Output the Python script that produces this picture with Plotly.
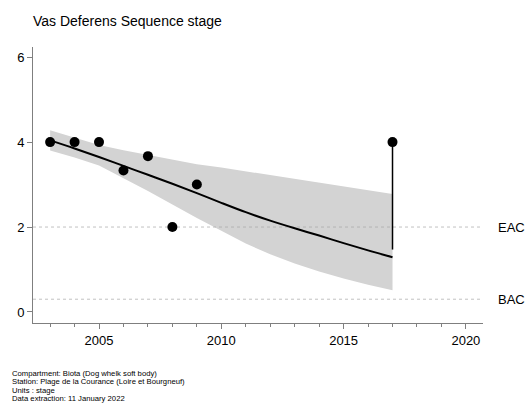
import plotly.graph_objects as go

# Observed data
years = [2003, 2004, 2005, 2006, 2007, 2008, 2009, 2017]
vds = [4.0, 4.0, 4.0, 3.33, 3.67, 2.0, 3.0, 4.0]

# Fitted trend and confidence band
fit_years = [2003, 2004, 2005, 2006, 2007, 2008, 2009, 2010, 2011, 2012, 2013, 2014, 2015, 2016, 2017]
fit_mid = [4.04, 3.85, 3.65, 3.44, 3.23, 3.02, 2.80, 2.57, 2.35, 2.15, 1.97, 1.80, 1.62, 1.45, 1.29]
fit_upper = [4.28, 4.10, 3.93, 3.81, 3.70, 3.58, 3.48, 3.40, 3.31, 3.22, 3.13, 3.04, 2.95, 2.87, 2.78]
fit_lower = [3.80, 3.64, 3.45, 3.15, 2.85, 2.53, 2.21, 1.90, 1.61, 1.36, 1.14, 0.95, 0.79, 0.64, 0.51]

# Last year change segment
last_year = [2017, 2017]
last_seg = [4.0, 1.47]

# Assessment criteria
EAC = 2.0
BAC = 0.3

x_range = [2002.3, 2020.7]
y_range = [-0.26, 6.24]

footer = [
    "Compartment: Biota (Dog whelk soft body)",
    "Station: Plage de la Courance (Loire et Bourgneuf)",
    "Units : stage",
    "Data extraction: 11 January 2022",
]

fig = go.Figure()

fig.add_trace(go.Scatter(
    x=fit_years + fit_years[::-1],
    y=fit_upper + fit_lower[::-1],
    fill="toself", fillcolor="#d3d3d3", line=dict(width=0),
    mode="lines", hoverinfo="skip", showlegend=False,
))

for val in [EAC, BAC]:
    fig.add_trace(go.Scatter(
        x=x_range, y=[val, val], mode="lines",
        line=dict(color="#a8a8a8", width=0.7, dash="dot"),
        showlegend=False, hoverinfo="skip",
    ))

fig.add_trace(go.Scatter(
    x=fit_years, y=fit_mid, mode="lines",
    line=dict(color="black", width=2, shape="spline"), showlegend=False,
))

fig.add_trace(go.Scatter(
    x=last_year, y=last_seg, mode="lines",
    line=dict(color="black", width=1.5), showlegend=False,
))

fig.add_trace(go.Scatter(
    x=years, y=vds, mode="markers",
    marker=dict(color="black", size=10), showlegend=False,
))

PH = 410 - 47 - 87

def py(pix):
    return (323 - pix) / PH

annotations = [
    dict(text="Vas Deferens Sequence stage", xref="paper", yref="paper",
         x=-0.004, y=py(21.5), xanchor="left", yanchor="middle", showarrow=False,
         font=dict(size=14, color="black")),
    dict(text="EAC", xref="paper", yref="y", x=1.028, y=EAC,
         xanchor="left", yanchor="middle", showarrow=False,
         font=dict(size=13, color="black")),
    dict(text="BAC", xref="paper", yref="y", x=1.028, y=BAC,
         xanchor="left", yanchor="middle", showarrow=False,
         font=dict(size=13, color="black")),
]
for i, line in enumerate(footer):
    annotations.append(dict(
        text=line, xref="paper", yref="paper",
        x=(10 - 33) / (483 - 33), y=py(373.3 + i * 8.4),
        xanchor="left", yanchor="middle", showarrow=False,
        font=dict(size=7.7, color="black")))

fig.update_layout(
    width=528, height=410,
    margin=dict(l=33, r=45, t=47, b=87),
    paper_bgcolor="white", plot_bgcolor="white",
    font=dict(family="Liberation Sans, Arial, sans-serif", color="black", size=13),
    annotations=annotations,
    xaxis=dict(
        range=x_range, showgrid=False, zeroline=False,
        showline=True, linecolor="#7f7f7f", linewidth=1,
        tickmode="array", tickvals=[2005, 2010, 2015, 2020],
        ticks="outside", ticklen=5, tickcolor="#7f7f7f",
        minor=dict(tickvals=list(range(2003, 2021)), ticks="outside", ticklen=3, tickcolor="#7f7f7f"),
        tickfont=dict(size=13),
    ),
    yaxis=dict(
        range=y_range, showgrid=False, zeroline=False,
        showline=True, linecolor="#7f7f7f", linewidth=1,
        tickvals=[0, 2, 4, 6], ticks="outside", ticklen=5, tickcolor="#7f7f7f",
        tickfont=dict(size=13),
    ),
)

fig.write_html("out.html")
